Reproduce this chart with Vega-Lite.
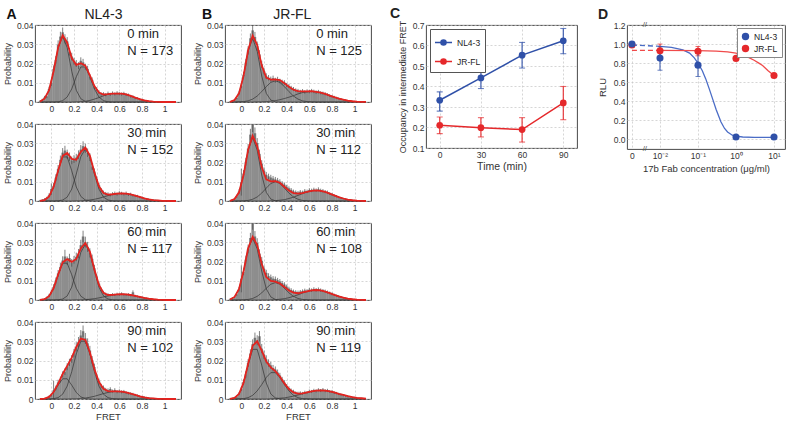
{
"$schema":"https://vega.github.io/schema/vega-lite/v6.json",
"padding":{"left":3,"top":6,"right":0,"bottom":0},
"config":{
 "font":"Liberation Sans",
 "view":{"stroke":"#333","strokeWidth":0.9},
 "axis":{"grid":true,"gridColor":"#c4c4c4","gridDash":[2,2],"gridWidth":0.7,"domain":false,"ticks":false,"labelFontSize":8.5,"labelColor":"#333","labelPadding":2,"labelFlush":false,"labelOverlap":false,"titleFontSize":9,"titleFontWeight":"normal","titleColor":"#333","titlePadding":4},
 "title":{"color":"#222"},
 "legend":{"labelFontSize":8.5,"labelColor":"#222"}
},
"datasets":{
"info":[
{"p":"A0","t":"0 min","n":"N = 173"},{"p":"A30","t":"30 min","n":"N = 152"},{"p":"A60","t":"60 min","n":"N = 117"},{"p":"A90","t":"90 min","n":"N = 102"},
{"p":"B0","t":"0 min","n":"N = 125"},{"p":"B30","t":"30 min","n":"N = 112"},{"p":"B60","t":"60 min","n":"N = 108"},{"p":"B90","t":"90 min","n":"N = 119"}],
"hist":[
{"p":"A0","x":-0.1,"h":0.0005,"e":0.0004},{"p":"A0","x":-0.08,"h":0.0011,"e":0.0006},{"p":"A0","x":-0.06,"h":0.0024,"e":0.0008},{"p":"A0","x":-0.04,"h":0.003,"e":0.001},{"p":"A0","x":-0.02,"h":0.0068,"e":0.0012},{"p":"A0","x":0,"h":0.0098,"e":0.0015},{"p":"A0","x":0.02,"h":0.0172,"e":0.0018},{"p":"A0","x":0.04,"h":0.0219,"e":0.002},{"p":"A0","x":0.06,"h":0.0298,"e":0.0022},{"p":"A0","x":0.08,"h":0.034,"e":0.0025},{"p":"A0","x":0.1,"h":0.0362,"e":0.0025},{"p":"A0","x":0.12,"h":0.0328,"e":0.0024},{"p":"A0","x":0.14,"h":0.0315,"e":0.0022},{"p":"A0","x":0.16,"h":0.0261,"e":0.002},{"p":"A0","x":0.18,"h":0.0236,"e":0.002},{"p":"A0","x":0.2,"h":0.0212,"e":0.0018},{"p":"A0","x":0.22,"h":0.02,"e":0.0018},{"p":"A0","x":0.24,"h":0.0189,"e":0.0018},{"p":"A0","x":0.26,"h":0.0214,"e":0.0018},{"p":"A0","x":0.28,"h":0.0206,"e":0.0018},{"p":"A0","x":0.3,"h":0.0183,"e":0.0016},{"p":"A0","x":0.32,"h":0.0172,"e":0.0016},{"p":"A0","x":0.34,"h":0.0131,"e":0.0014},{"p":"A0","x":0.36,"h":0.0115,"e":0.0013},{"p":"A0","x":0.38,"h":0.0079,"e":0.0011},{"p":"A0","x":0.4,"h":0.0067,"e":0.001},{"p":"A0","x":0.42,"h":0.0052,"e":0.0009},{"p":"A0","x":0.44,"h":0.0041,"e":0.0008},{"p":"A0","x":0.46,"h":0.0043,"e":0.0008},{"p":"A0","x":0.48,"h":0.0038,"e":0.0008},{"p":"A0","x":0.5,"h":0.0046,"e":0.0008},{"p":"A0","x":0.52,"h":0.004,"e":0.0008},{"p":"A0","x":0.54,"h":0.0047,"e":0.0008},{"p":"A0","x":0.56,"h":0.0042,"e":0.0008},{"p":"A0","x":0.58,"h":0.0048,"e":0.0008},{"p":"A0","x":0.6,"h":0.0043,"e":0.0008},{"p":"A0","x":0.62,"h":0.0041,"e":0.0008},{"p":"A0","x":0.64,"h":0.0045,"e":0.0008},{"p":"A0","x":0.66,"h":0.0038,"e":0.0007},{"p":"A0","x":0.68,"h":0.0037,"e":0.0007},{"p":"A0","x":0.7,"h":0.003,"e":0.0007},{"p":"A0","x":0.72,"h":0.0029,"e":0.0006},{"p":"A0","x":0.74,"h":0.0021,"e":0.0006},{"p":"A0","x":0.76,"h":0.002,"e":0.0005},{"p":"A0","x":0.78,"h":0.0014,"e":0.0005},{"p":"A0","x":0.8,"h":0.0012,"e":0.0004},{"p":"A0","x":0.82,"h":0.0008,"e":0.0004},{"p":"A0","x":0.84,"h":0.0007,"e":0.0003},{"p":"A0","x":0.86,"h":0.0004,"e":0.0003},{"p":"A0","x":0.88,"h":0.0004,"e":0.0002},{"p":"A0","x":0.9,"h":0.0002,"e":0.0002},{"p":"A0","x":0.92,"h":0.0002,"e":0.0002},{"p":"A0","x":0.94,"h":0.0001,"e":0.0001},{"p":"A0","x":0.96,"h":0.0001,"e":0.0001},
{"p":"A30","x":-0.1,"h":0.0003,"e":0.0003},{"p":"A30","x":-0.08,"h":0.0006,"e":0.0004},{"p":"A30","x":-0.06,"h":0.001,"e":0.0005},{"p":"A30","x":-0.04,"h":0.0016,"e":0.0006},{"p":"A30","x":-0.02,"h":0.003,"e":0.001},{"p":"A30","x":0,"h":0.0062,"e":0.003},{"p":"A30","x":0.02,"h":0.0079,"e":0.0015},{"p":"A30","x":0.04,"h":0.0121,"e":0.0018},{"p":"A30","x":0.06,"h":0.0167,"e":0.002},{"p":"A30","x":0.08,"h":0.0214,"e":0.0022},{"p":"A30","x":0.1,"h":0.0251,"e":0.0024},{"p":"A30","x":0.12,"h":0.0262,"e":0.0025},{"p":"A30","x":0.14,"h":0.0243,"e":0.0024},{"p":"A30","x":0.16,"h":0.023,"e":0.0022},{"p":"A30","x":0.18,"h":0.0211,"e":0.002},{"p":"A30","x":0.2,"h":0.0218,"e":0.002},{"p":"A30","x":0.22,"h":0.0225,"e":0.002},{"p":"A30","x":0.24,"h":0.0241,"e":0.0022},{"p":"A30","x":0.26,"h":0.0267,"e":0.0024},{"p":"A30","x":0.28,"h":0.0285,"e":0.0025},{"p":"A30","x":0.3,"h":0.0274,"e":0.0024},{"p":"A30","x":0.32,"h":0.0251,"e":0.0022},{"p":"A30","x":0.34,"h":0.0228,"e":0.002},{"p":"A30","x":0.36,"h":0.018,"e":0.0018},{"p":"A30","x":0.38,"h":0.0153,"e":0.0016},{"p":"A30","x":0.4,"h":0.0114,"e":0.0014},{"p":"A30","x":0.42,"h":0.0082,"e":0.0012},{"p":"A30","x":0.44,"h":0.0058,"e":0.001},{"p":"A30","x":0.46,"h":0.0046,"e":0.0008},{"p":"A30","x":0.48,"h":0.0039,"e":0.0008},{"p":"A30","x":0.5,"h":0.0037,"e":0.0008},{"p":"A30","x":0.52,"h":0.0031,"e":0.0007},{"p":"A30","x":0.54,"h":0.0038,"e":0.0008},{"p":"A30","x":0.56,"h":0.0041,"e":0.0008},{"p":"A30","x":0.58,"h":0.0036,"e":0.0008},{"p":"A30","x":0.6,"h":0.0043,"e":0.0008},{"p":"A30","x":0.62,"h":0.004,"e":0.0008},{"p":"A30","x":0.64,"h":0.0036,"e":0.0007},{"p":"A30","x":0.66,"h":0.0041,"e":0.0008},{"p":"A30","x":0.68,"h":0.0033,"e":0.0007},{"p":"A30","x":0.7,"h":0.0036,"e":0.0007},{"p":"A30","x":0.72,"h":0.0029,"e":0.0006},{"p":"A30","x":0.74,"h":0.0027,"e":0.0006},{"p":"A30","x":0.76,"h":0.0026,"e":0.0006},{"p":"A30","x":0.78,"h":0.002,"e":0.0005},{"p":"A30","x":0.8,"h":0.0018,"e":0.0005},{"p":"A30","x":0.82,"h":0.0013,"e":0.0004},{"p":"A30","x":0.84,"h":0.0011,"e":0.0004},{"p":"A30","x":0.86,"h":0.0009,"e":0.0003},{"p":"A30","x":0.88,"h":0.0006,"e":0.0003},{"p":"A30","x":0.9,"h":0.0005,"e":0.0003},{"p":"A30","x":0.92,"h":0.0004,"e":0.0002},{"p":"A30","x":0.94,"h":0.0003,"e":0.0002},{"p":"A30","x":0.96,"h":0.0002,"e":0.0001},{"p":"A30","x":0.98,"h":0.0001,"e":0.0001},
{"p":"A60","x":-0.1,"h":0.0002,"e":0.0002},{"p":"A60","x":-0.08,"h":0.0003,"e":0.0003},{"p":"A60","x":-0.06,"h":0.0006,"e":0.0004},{"p":"A60","x":-0.04,"h":0.0012,"e":0.0006},{"p":"A60","x":-0.02,"h":0.0024,"e":0.0008},{"p":"A60","x":0,"h":0.0042,"e":0.0012},{"p":"A60","x":0.02,"h":0.0068,"e":0.0014},{"p":"A60","x":0.04,"h":0.0101,"e":0.0016},{"p":"A60","x":0.06,"h":0.0138,"e":0.0018},{"p":"A60","x":0.08,"h":0.0172,"e":0.002},{"p":"A60","x":0.1,"h":0.0205,"e":0.0022},{"p":"A60","x":0.12,"h":0.0226,"e":0.0035},{"p":"A60","x":0.14,"h":0.0204,"e":0.0022},{"p":"A60","x":0.16,"h":0.0218,"e":0.0022},{"p":"A60","x":0.18,"h":0.0193,"e":0.002},{"p":"A60","x":0.2,"h":0.0209,"e":0.002},{"p":"A60","x":0.22,"h":0.0224,"e":0.0022},{"p":"A60","x":0.24,"h":0.0241,"e":0.0024},{"p":"A60","x":0.26,"h":0.0285,"e":0.0028},{"p":"A60","x":0.28,"h":0.033,"e":0.003},{"p":"A60","x":0.3,"h":0.0301,"e":0.0028},{"p":"A60","x":0.32,"h":0.0276,"e":0.0026},{"p":"A60","x":0.34,"h":0.0245,"e":0.0024},{"p":"A60","x":0.36,"h":0.0214,"e":0.0022},{"p":"A60","x":0.38,"h":0.0165,"e":0.0018},{"p":"A60","x":0.4,"h":0.0121,"e":0.0015},{"p":"A60","x":0.42,"h":0.0084,"e":0.0012},{"p":"A60","x":0.44,"h":0.0055,"e":0.001},{"p":"A60","x":0.46,"h":0.004,"e":0.0008},{"p":"A60","x":0.48,"h":0.0031,"e":0.0007},{"p":"A60","x":0.5,"h":0.0028,"e":0.0007},{"p":"A60","x":0.52,"h":0.0025,"e":0.0006},{"p":"A60","x":0.54,"h":0.0029,"e":0.0007},{"p":"A60","x":0.56,"h":0.0027,"e":0.0006},{"p":"A60","x":0.58,"h":0.0031,"e":0.0007},{"p":"A60","x":0.6,"h":0.0028,"e":0.0006},{"p":"A60","x":0.62,"h":0.0033,"e":0.0007},{"p":"A60","x":0.64,"h":0.0029,"e":0.0006},{"p":"A60","x":0.66,"h":0.0027,"e":0.0006},{"p":"A60","x":0.68,"h":0.003,"e":0.0006},{"p":"A60","x":0.7,"h":0.0025,"e":0.0006},{"p":"A60","x":0.72,"h":0.004,"e":0.001},{"p":"A60","x":0.74,"h":0.0022,"e":0.0005},{"p":"A60","x":0.76,"h":0.0019,"e":0.0005},{"p":"A60","x":0.78,"h":0.0016,"e":0.0005},{"p":"A60","x":0.8,"h":0.0014,"e":0.0004},{"p":"A60","x":0.82,"h":0.0011,"e":0.0004},{"p":"A60","x":0.84,"h":0.0009,"e":0.0003},{"p":"A60","x":0.86,"h":0.0007,"e":0.0003},{"p":"A60","x":0.88,"h":0.0005,"e":0.0002},{"p":"A60","x":0.9,"h":0.0004,"e":0.0002},{"p":"A60","x":0.92,"h":0.0003,"e":0.0002},{"p":"A60","x":0.94,"h":0.0002,"e":0.0001},{"p":"A60","x":0.96,"h":0.0001,"e":0.0001},
{"p":"A90","x":-0.1,"h":0.0001,"e":0.0001},{"p":"A90","x":-0.08,"h":0.0001,"e":0.0002},{"p":"A90","x":-0.06,"h":0.0003,"e":0.0003},{"p":"A90","x":-0.04,"h":0.0005,"e":0.0004},{"p":"A90","x":-0.02,"h":0.0013,"e":0.0006},{"p":"A90","x":0,"h":0.0021,"e":0.0008},{"p":"A90","x":0.02,"h":0.0045,"e":0.005},{"p":"A90","x":0.04,"h":0.0058,"e":0.0012},{"p":"A90","x":0.06,"h":0.0086,"e":0.0014},{"p":"A90","x":0.08,"h":0.0101,"e":0.0015},{"p":"A90","x":0.1,"h":0.0128,"e":0.0016},{"p":"A90","x":0.12,"h":0.0142,"e":0.0017},{"p":"A90","x":0.14,"h":0.0168,"e":0.0018},{"p":"A90","x":0.16,"h":0.019,"e":0.0019},{"p":"A90","x":0.18,"h":0.0208,"e":0.002},{"p":"A90","x":0.2,"h":0.0238,"e":0.0022},{"p":"A90","x":0.22,"h":0.0271,"e":0.0024},{"p":"A90","x":0.24,"h":0.0296,"e":0.0026},{"p":"A90","x":0.26,"h":0.033,"e":0.0028},{"p":"A90","x":0.28,"h":0.0352,"e":0.003},{"p":"A90","x":0.3,"h":0.0315,"e":0.0028},{"p":"A90","x":0.32,"h":0.0289,"e":0.0026},{"p":"A90","x":0.34,"h":0.0252,"e":0.0024},{"p":"A90","x":0.36,"h":0.0203,"e":0.002},{"p":"A90","x":0.38,"h":0.0166,"e":0.0018},{"p":"A90","x":0.4,"h":0.0118,"e":0.0015},{"p":"A90","x":0.42,"h":0.0093,"e":0.0013},{"p":"A90","x":0.44,"h":0.0068,"e":0.0011},{"p":"A90","x":0.46,"h":0.006,"e":0.001},{"p":"A90","x":0.48,"h":0.0049,"e":0.0009},{"p":"A90","x":0.5,"h":0.0046,"e":0.0009},{"p":"A90","x":0.52,"h":0.0052,"e":0.0009},{"p":"A90","x":0.54,"h":0.0041,"e":0.0008},{"p":"A90","x":0.56,"h":0.0047,"e":0.0009},{"p":"A90","x":0.58,"h":0.0038,"e":0.0008},{"p":"A90","x":0.6,"h":0.0042,"e":0.0008},{"p":"A90","x":0.62,"h":0.0037,"e":0.0008},{"p":"A90","x":0.64,"h":0.0039,"e":0.0008},{"p":"A90","x":0.66,"h":0.0033,"e":0.0007},{"p":"A90","x":0.68,"h":0.003,"e":0.0007},{"p":"A90","x":0.7,"h":0.0029,"e":0.0006},{"p":"A90","x":0.72,"h":0.0026,"e":0.0006},{"p":"A90","x":0.74,"h":0.0022,"e":0.0005},{"p":"A90","x":0.76,"h":0.0019,"e":0.0005},{"p":"A90","x":0.78,"h":0.0015,"e":0.0005},{"p":"A90","x":0.8,"h":0.0012,"e":0.0004},{"p":"A90","x":0.82,"h":0.001,"e":0.0004},{"p":"A90","x":0.84,"h":0.0008,"e":0.0003},{"p":"A90","x":0.86,"h":0.0006,"e":0.0003},{"p":"A90","x":0.88,"h":0.0004,"e":0.0002},{"p":"A90","x":0.9,"h":0.0003,"e":0.0002},{"p":"A90","x":0.92,"h":0.0002,"e":0.0001},{"p":"A90","x":0.94,"h":0.0001,"e":0.0001},
{"p":"B0","x":-0.1,"h":0.0002,"e":0.0002},{"p":"B0","x":-0.08,"h":0.0004,"e":0.0003},{"p":"B0","x":-0.06,"h":0.0011,"e":0.0005},{"p":"B0","x":-0.04,"h":0.0022,"e":0.0007},{"p":"B0","x":-0.02,"h":0.0048,"e":0.001},{"p":"B0","x":0,"h":0.0085,"e":0.0013},{"p":"B0","x":0.02,"h":0.0141,"e":0.0016},{"p":"B0","x":0.04,"h":0.0205,"e":0.0019},{"p":"B0","x":0.06,"h":0.0268,"e":0.0022},{"p":"B0","x":0.08,"h":0.0331,"e":0.0025},{"p":"B0","x":0.1,"h":0.0372,"e":0.003},{"p":"B0","x":0.12,"h":0.0338,"e":0.0026},{"p":"B0","x":0.14,"h":0.029,"e":0.0024},{"p":"B0","x":0.16,"h":0.0247,"e":0.0022},{"p":"B0","x":0.18,"h":0.0196,"e":0.0019},{"p":"B0","x":0.2,"h":0.016,"e":0.0017},{"p":"B0","x":0.22,"h":0.0134,"e":0.0015},{"p":"B0","x":0.24,"h":0.0126,"e":0.0014},{"p":"B0","x":0.26,"h":0.0119,"e":0.0013},{"p":"B0","x":0.28,"h":0.0124,"e":0.0013},{"p":"B0","x":0.3,"h":0.0113,"e":0.0013},{"p":"B0","x":0.32,"h":0.0118,"e":0.0013},{"p":"B0","x":0.34,"h":0.0109,"e":0.0012},{"p":"B0","x":0.36,"h":0.0104,"e":0.0012},{"p":"B0","x":0.38,"h":0.0101,"e":0.0012},{"p":"B0","x":0.4,"h":0.0088,"e":0.0011},{"p":"B0","x":0.42,"h":0.0083,"e":0.0011},{"p":"B0","x":0.44,"h":0.0074,"e":0.001},{"p":"B0","x":0.46,"h":0.0068,"e":0.001},{"p":"B0","x":0.48,"h":0.0062,"e":0.0009},{"p":"B0","x":0.5,"h":0.0059,"e":0.0009},{"p":"B0","x":0.52,"h":0.0054,"e":0.0009},{"p":"B0","x":0.54,"h":0.0058,"e":0.0009},{"p":"B0","x":0.56,"h":0.0052,"e":0.0009},{"p":"B0","x":0.58,"h":0.0057,"e":0.0009},{"p":"B0","x":0.6,"h":0.0054,"e":0.0009},{"p":"B0","x":0.62,"h":0.0059,"e":0.0009},{"p":"B0","x":0.64,"h":0.0055,"e":0.0009},{"p":"B0","x":0.66,"h":0.0051,"e":0.0009},{"p":"B0","x":0.68,"h":0.0054,"e":0.0009},{"p":"B0","x":0.7,"h":0.0048,"e":0.0008},{"p":"B0","x":0.72,"h":0.0046,"e":0.0008},{"p":"B0","x":0.74,"h":0.0043,"e":0.0008},{"p":"B0","x":0.76,"h":0.0039,"e":0.0007},{"p":"B0","x":0.78,"h":0.0034,"e":0.0007},{"p":"B0","x":0.8,"h":0.003,"e":0.0006},{"p":"B0","x":0.82,"h":0.0026,"e":0.0006},{"p":"B0","x":0.84,"h":0.0022,"e":0.0005},{"p":"B0","x":0.86,"h":0.0019,"e":0.0005},{"p":"B0","x":0.88,"h":0.0015,"e":0.0004},{"p":"B0","x":0.9,"h":0.0012,"e":0.0004},{"p":"B0","x":0.92,"h":0.001,"e":0.0003},{"p":"B0","x":0.94,"h":0.0007,"e":0.0003},{"p":"B0","x":0.96,"h":0.0005,"e":0.0002},{"p":"B0","x":0.98,"h":0.0004,"e":0.0002},{"p":"B0","x":1,"h":0.0003,"e":0.0002},{"p":"B0","x":1.02,"h":0.0002,"e":0.0001},{"p":"B0","x":1.04,"h":0.0001,"e":0.0001},{"p":"B0","x":1.06,"h":0.0001,"e":0.0001},
{"p":"B30","x":-0.1,"h":0.0002,"e":0.0002},{"p":"B30","x":-0.08,"h":0.0005,"e":0.0003},{"p":"B30","x":-0.06,"h":0.0012,"e":0.0005},{"p":"B30","x":-0.04,"h":0.0025,"e":0.0008},{"p":"B30","x":-0.02,"h":0.0049,"e":0.0012},{"p":"B30","x":0,"h":0.0098,"e":0.007},{"p":"B30","x":0.02,"h":0.0143,"e":0.0018},{"p":"B30","x":0.04,"h":0.0204,"e":0.002},{"p":"B30","x":0.06,"h":0.0272,"e":0.0024},{"p":"B30","x":0.08,"h":0.0345,"e":0.003},{"p":"B30","x":0.1,"h":0.0398,"e":0.004},{"p":"B30","x":0.12,"h":0.0352,"e":0.003},{"p":"B30","x":0.14,"h":0.0301,"e":0.0026},{"p":"B30","x":0.16,"h":0.0245,"e":0.0022},{"p":"B30","x":0.18,"h":0.0193,"e":0.0019},{"p":"B30","x":0.2,"h":0.0158,"e":0.0017},{"p":"B30","x":0.22,"h":0.0136,"e":0.0015},{"p":"B30","x":0.24,"h":0.0128,"e":0.0014},{"p":"B30","x":0.26,"h":0.0122,"e":0.0014},{"p":"B30","x":0.28,"h":0.0117,"e":0.0013},{"p":"B30","x":0.3,"h":0.0112,"e":0.0013},{"p":"B30","x":0.32,"h":0.0108,"e":0.0012},{"p":"B30","x":0.34,"h":0.0101,"e":0.0012},{"p":"B30","x":0.36,"h":0.0092,"e":0.0011},{"p":"B30","x":0.38,"h":0.0085,"e":0.0011},{"p":"B30","x":0.4,"h":0.0074,"e":0.001},{"p":"B30","x":0.42,"h":0.0066,"e":0.001},{"p":"B30","x":0.44,"h":0.0058,"e":0.0009},{"p":"B30","x":0.46,"h":0.005,"e":0.0009},{"p":"B30","x":0.48,"h":0.0047,"e":0.0008},{"p":"B30","x":0.5,"h":0.0044,"e":0.0008},{"p":"B30","x":0.52,"h":0.0049,"e":0.0008},{"p":"B30","x":0.54,"h":0.0046,"e":0.0008},{"p":"B30","x":0.56,"h":0.0053,"e":0.0009},{"p":"B30","x":0.58,"h":0.005,"e":0.0009},{"p":"B30","x":0.6,"h":0.0057,"e":0.0009},{"p":"B30","x":0.62,"h":0.0055,"e":0.0009},{"p":"B30","x":0.64,"h":0.006,"e":0.0009},{"p":"B30","x":0.66,"h":0.0056,"e":0.0009},{"p":"B30","x":0.68,"h":0.0061,"e":0.001},{"p":"B30","x":0.7,"h":0.0055,"e":0.0009},{"p":"B30","x":0.72,"h":0.0053,"e":0.0009},{"p":"B30","x":0.74,"h":0.0049,"e":0.0008},{"p":"B30","x":0.76,"h":0.0046,"e":0.0008},{"p":"B30","x":0.78,"h":0.0039,"e":0.0007},{"p":"B30","x":0.8,"h":0.0035,"e":0.0007},{"p":"B30","x":0.82,"h":0.0029,"e":0.0006},{"p":"B30","x":0.84,"h":0.0025,"e":0.0006},{"p":"B30","x":0.86,"h":0.002,"e":0.0005},{"p":"B30","x":0.88,"h":0.0016,"e":0.0004},{"p":"B30","x":0.9,"h":0.0013,"e":0.0004},{"p":"B30","x":0.92,"h":0.001,"e":0.0003},{"p":"B30","x":0.94,"h":0.0007,"e":0.0003},{"p":"B30","x":0.96,"h":0.0005,"e":0.0002},{"p":"B30","x":0.98,"h":0.0004,"e":0.0002},{"p":"B30","x":1,"h":0.0003,"e":0.0001},{"p":"B30","x":1.02,"h":0.0002,"e":0.0001},{"p":"B30","x":1.04,"h":0.0001,"e":0.0001},
{"p":"B60","x":-0.1,"h":0.0004,"e":0.0003},{"p":"B60","x":-0.08,"h":0.0008,"e":0.0004},{"p":"B60","x":-0.06,"h":0.0015,"e":0.0005},{"p":"B60","x":-0.04,"h":0.003,"e":0.0008},{"p":"B60","x":-0.02,"h":0.0055,"e":0.0011},{"p":"B60","x":0,"h":0.011,"e":0.007},{"p":"B60","x":0.02,"h":0.0146,"e":0.0017},{"p":"B60","x":0.04,"h":0.021,"e":0.002},{"p":"B60","x":0.06,"h":0.0265,"e":0.0023},{"p":"B60","x":0.08,"h":0.0322,"e":0.0027},{"p":"B60","x":0.1,"h":0.0405,"e":0.004},{"p":"B60","x":0.12,"h":0.033,"e":0.0028},{"p":"B60","x":0.14,"h":0.0296,"e":0.0025},{"p":"B60","x":0.16,"h":0.0241,"e":0.0022},{"p":"B60","x":0.18,"h":0.0204,"e":0.002},{"p":"B60","x":0.2,"h":0.0162,"e":0.0017},{"p":"B60","x":0.22,"h":0.0141,"e":0.0016},{"p":"B60","x":0.24,"h":0.0124,"e":0.0015},{"p":"B60","x":0.26,"h":0.0118,"e":0.0014},{"p":"B60","x":0.28,"h":0.0111,"e":0.0013},{"p":"B60","x":0.3,"h":0.0109,"e":0.0013},{"p":"B60","x":0.32,"h":0.0103,"e":0.0012},{"p":"B60","x":0.34,"h":0.0097,"e":0.0012},{"p":"B60","x":0.36,"h":0.0088,"e":0.0011},{"p":"B60","x":0.38,"h":0.0081,"e":0.0011},{"p":"B60","x":0.4,"h":0.007,"e":0.001},{"p":"B60","x":0.42,"h":0.006,"e":0.0009},{"p":"B60","x":0.44,"h":0.0052,"e":0.0009},{"p":"B60","x":0.46,"h":0.0046,"e":0.0008},{"p":"B60","x":0.48,"h":0.0043,"e":0.0008},{"p":"B60","x":0.5,"h":0.0041,"e":0.0008},{"p":"B60","x":0.52,"h":0.0044,"e":0.0008},{"p":"B60","x":0.54,"h":0.0047,"e":0.0008},{"p":"B60","x":0.56,"h":0.005,"e":0.0009},{"p":"B60","x":0.58,"h":0.0048,"e":0.0008},{"p":"B60","x":0.6,"h":0.0054,"e":0.0009},{"p":"B60","x":0.62,"h":0.0051,"e":0.0009},{"p":"B60","x":0.64,"h":0.0057,"e":0.0009},{"p":"B60","x":0.66,"h":0.0053,"e":0.0009},{"p":"B60","x":0.68,"h":0.0056,"e":0.0009},{"p":"B60","x":0.7,"h":0.0051,"e":0.0009},{"p":"B60","x":0.72,"h":0.0049,"e":0.0008},{"p":"B60","x":0.74,"h":0.0046,"e":0.0008},{"p":"B60","x":0.76,"h":0.0041,"e":0.0008},{"p":"B60","x":0.78,"h":0.0037,"e":0.0007},{"p":"B60","x":0.8,"h":0.0032,"e":0.0007},{"p":"B60","x":0.82,"h":0.0027,"e":0.0006},{"p":"B60","x":0.84,"h":0.0023,"e":0.0005},{"p":"B60","x":0.86,"h":0.0019,"e":0.0005},{"p":"B60","x":0.88,"h":0.0015,"e":0.0004},{"p":"B60","x":0.9,"h":0.0012,"e":0.0004},{"p":"B60","x":0.92,"h":0.0009,"e":0.0003},{"p":"B60","x":0.94,"h":0.0007,"e":0.0003},{"p":"B60","x":0.96,"h":0.0005,"e":0.0002},{"p":"B60","x":0.98,"h":0.0004,"e":0.0002},{"p":"B60","x":1,"h":0.0003,"e":0.0001},{"p":"B60","x":1.02,"h":0.0002,"e":0.0001},{"p":"B60","x":1.04,"h":0.0001,"e":0.0001},
{"p":"B90","x":-0.1,"h":0.0002,"e":0.0002},{"p":"B90","x":-0.08,"h":0.0003,"e":0.0003},{"p":"B90","x":-0.06,"h":0.0007,"e":0.0004},{"p":"B90","x":-0.04,"h":0.0013,"e":0.0006},{"p":"B90","x":-0.02,"h":0.0028,"e":0.0008},{"p":"B90","x":0,"h":0.0052,"e":0.0011},{"p":"B90","x":0.02,"h":0.0089,"e":0.0014},{"p":"B90","x":0.04,"h":0.0128,"e":0.0017},{"p":"B90","x":0.06,"h":0.0187,"e":0.002},{"p":"B90","x":0.08,"h":0.0236,"e":0.0022},{"p":"B90","x":0.1,"h":0.0285,"e":0.0025},{"p":"B90","x":0.12,"h":0.0318,"e":0.0027},{"p":"B90","x":0.14,"h":0.0305,"e":0.0026},{"p":"B90","x":0.16,"h":0.0326,"e":0.0027},{"p":"B90","x":0.18,"h":0.0262,"e":0.0024},{"p":"B90","x":0.2,"h":0.023,"e":0.0022},{"p":"B90","x":0.22,"h":0.0206,"e":0.0021},{"p":"B90","x":0.24,"h":0.0187,"e":0.0019},{"p":"B90","x":0.26,"h":0.0175,"e":0.0018},{"p":"B90","x":0.28,"h":0.016,"e":0.0017},{"p":"B90","x":0.3,"h":0.0153,"e":0.0016},{"p":"B90","x":0.32,"h":0.0138,"e":0.0015},{"p":"B90","x":0.34,"h":0.0122,"e":0.0014},{"p":"B90","x":0.36,"h":0.0102,"e":0.0013},{"p":"B90","x":0.38,"h":0.0086,"e":0.0012},{"p":"B90","x":0.4,"h":0.0068,"e":0.001},{"p":"B90","x":0.42,"h":0.0057,"e":0.0009},{"p":"B90","x":0.44,"h":0.0046,"e":0.0008},{"p":"B90","x":0.46,"h":0.004,"e":0.0008},{"p":"B90","x":0.48,"h":0.0033,"e":0.0007},{"p":"B90","x":0.5,"h":0.0031,"e":0.0007},{"p":"B90","x":0.52,"h":0.0033,"e":0.0007},{"p":"B90","x":0.54,"h":0.003,"e":0.0007},{"p":"B90","x":0.56,"h":0.0036,"e":0.0007},{"p":"B90","x":0.58,"h":0.0034,"e":0.0007},{"p":"B90","x":0.6,"h":0.0041,"e":0.0008},{"p":"B90","x":0.62,"h":0.0039,"e":0.0008},{"p":"B90","x":0.64,"h":0.0045,"e":0.0008},{"p":"B90","x":0.66,"h":0.0042,"e":0.0008},{"p":"B90","x":0.68,"h":0.0048,"e":0.0008},{"p":"B90","x":0.7,"h":0.0044,"e":0.0008},{"p":"B90","x":0.72,"h":0.0049,"e":0.0008},{"p":"B90","x":0.74,"h":0.0043,"e":0.0008},{"p":"B90","x":0.76,"h":0.0045,"e":0.0008},{"p":"B90","x":0.78,"h":0.0039,"e":0.0007},{"p":"B90","x":0.8,"h":0.004,"e":0.0007},{"p":"B90","x":0.82,"h":0.0033,"e":0.0007},{"p":"B90","x":0.84,"h":0.0031,"e":0.0006},{"p":"B90","x":0.86,"h":0.0026,"e":0.0006},{"p":"B90","x":0.88,"h":0.0022,"e":0.0005},{"p":"B90","x":0.9,"h":0.0019,"e":0.0005},{"p":"B90","x":0.92,"h":0.0014,"e":0.0004},{"p":"B90","x":0.94,"h":0.0012,"e":0.0004},{"p":"B90","x":0.96,"h":0.0008,"e":0.0003},{"p":"B90","x":0.98,"h":0.0006,"e":0.0002},{"p":"B90","x":1,"h":0.0004,"e":0.0002},{"p":"B90","x":1.02,"h":0.0003,"e":0.0001},{"p":"B90","x":1.04,"h":0.0002,"e":0.0001},{"p":"B90","x":1.06,"h":0.0001,"e":0.0001}
],
"fit":[
{"p":"A0","x":-0.1,"a":0.0003,"b":0,"c":0,"f":0.0003},{"p":"A0","x":-0.06,"a":0.0017,"b":0,"c":0,"f":0.0017},{"p":"A0","x":-0.02,"a":0.0061,"b":0,"c":0,"f":0.0061},{"p":"A0","x":0.02,"a":0.016,"b":0,"c":0,"f":0.016},{"p":"A0","x":0.06,"a":0.0282,"b":0.0001,"c":0,"f":0.0283},{"p":"A0","x":0.1,"a":0.034,"b":0.0007,"c":0,"f":0.0347},{"p":"A0","x":0.14,"a":0.0282,"b":0.0026,"c":0,"f":0.0308},{"p":"A0","x":0.18,"a":0.016,"b":0.0068,"c":0,"f":0.0228},{"p":"A0","x":0.22,"a":0.0061,"b":0.0131,"c":0.0001,"f":0.0193},{"p":"A0","x":0.26,"a":0.0017,"b":0.0182,"c":0.0002,"f":0.0201},{"p":"A0","x":0.3,"a":0.0003,"b":0.0182,"c":0.0004,"f":0.0189},{"p":"A0","x":0.34,"a":0,"b":0.0131,"c":0.0008,"f":0.0139},{"p":"A0","x":0.38,"a":0,"b":0.0068,"c":0.0015,"f":0.0083},{"p":"A0","x":0.42,"a":0,"b":0.0026,"c":0.0023,"f":0.0049},{"p":"A0","x":0.46,"a":0,"b":0.0007,"c":0.0032,"f":0.0039},{"p":"A0","x":0.5,"a":0,"b":0.0001,"c":0.004,"f":0.0041},{"p":"A0","x":0.54,"a":0,"b":0,"c":0.0044,"f":0.0044},{"p":"A0","x":0.58,"a":0,"b":0,"c":0.0044,"f":0.0044},{"p":"A0","x":0.62,"a":0,"b":0,"c":0.0044,"f":0.0044},{"p":"A0","x":0.66,"a":0,"b":0,"c":0.004,"f":0.004},{"p":"A0","x":0.7,"a":0,"b":0,"c":0.0032,"f":0.0032},{"p":"A0","x":0.74,"a":0,"b":0,"c":0.0023,"f":0.0023},{"p":"A0","x":0.78,"a":0,"b":0,"c":0.0015,"f":0.0015},{"p":"A0","x":0.82,"a":0,"b":0,"c":0.0008,"f":0.0008},{"p":"A0","x":0.86,"a":0,"b":0,"c":0.0004,"f":0.0004},{"p":"A0","x":0.9,"a":0,"b":0,"c":0.0002,"f":0.0002},{"p":"A0","x":0.94,"a":0,"b":0,"c":0.0001,"f":0.0001},{"p":"A0","x":0.98,"a":0,"b":0,"c":0,"f":0},{"p":"A0","x":1.02,"a":0,"b":0,"c":0,"f":0},{"p":"A0","x":1.06,"a":0,"b":0,"c":0,"f":0},{"p":"A0","x":1.1,"a":0,"b":0,"c":0,"f":0},
{"p":"A30","x":-0.1,"a":0.0001,"b":0,"c":0,"f":0.0001},{"p":"A30","x":-0.06,"a":0.0005,"b":0,"c":0,"f":0.0005},{"p":"A30","x":-0.02,"a":0.0024,"b":0,"c":0,"f":0.0024},{"p":"A30","x":0.02,"a":0.0073,"b":0,"c":0,"f":0.0073},{"p":"A30","x":0.06,"a":0.0157,"b":0.0001,"c":0,"f":0.0158},{"p":"A30","x":0.1,"a":0.0229,"b":0.0005,"c":0,"f":0.0234},{"p":"A30","x":0.14,"a":0.0229,"b":0.002,"c":0,"f":0.0249},{"p":"A30","x":0.18,"a":0.0157,"b":0.0062,"c":0,"f":0.0219},{"p":"A30","x":0.22,"a":0.0073,"b":0.014,"c":0.0001,"f":0.0214},{"p":"A30","x":0.26,"a":0.0024,"b":0.023,"c":0.0001,"f":0.0255},{"p":"A30","x":0.3,"a":0.0005,"b":0.027,"c":0.0003,"f":0.0278},{"p":"A30","x":0.34,"a":0.0001,"b":0.023,"c":0.0005,"f":0.0236},{"p":"A30","x":0.38,"a":0,"b":0.014,"c":0.0009,"f":0.0149},{"p":"A30","x":0.42,"a":0,"b":0.0062,"c":0.0014,"f":0.0076},{"p":"A30","x":0.46,"a":0,"b":0.002,"c":0.0021,"f":0.0041},{"p":"A30","x":0.5,"a":0,"b":0.0005,"c":0.0028,"f":0.0033},{"p":"A30","x":0.54,"a":0,"b":0.0001,"c":0.0034,"f":0.0035},{"p":"A30","x":0.58,"a":0,"b":0,"c":0.0038,"f":0.0038},{"p":"A30","x":0.62,"a":0,"b":0,"c":0.004,"f":0.004},{"p":"A30","x":0.66,"a":0,"b":0,"c":0.0038,"f":0.0038},{"p":"A30","x":0.7,"a":0,"b":0,"c":0.0034,"f":0.0034},{"p":"A30","x":0.74,"a":0,"b":0,"c":0.0028,"f":0.0028},{"p":"A30","x":0.78,"a":0,"b":0,"c":0.0021,"f":0.0021},{"p":"A30","x":0.82,"a":0,"b":0,"c":0.0014,"f":0.0014},{"p":"A30","x":0.86,"a":0,"b":0,"c":0.0009,"f":0.0009},{"p":"A30","x":0.9,"a":0,"b":0,"c":0.0005,"f":0.0005},{"p":"A30","x":0.94,"a":0,"b":0,"c":0.0003,"f":0.0003},{"p":"A30","x":0.98,"a":0,"b":0,"c":0.0001,"f":0.0001},{"p":"A30","x":1.02,"a":0,"b":0,"c":0.0001,"f":0.0001},{"p":"A30","x":1.06,"a":0,"b":0,"c":0,"f":0},{"p":"A30","x":1.1,"a":0,"b":0,"c":0,"f":0},
{"p":"A60","x":-0.1,"a":0.0001,"b":0,"c":0,"f":0.0001},{"p":"A60","x":-0.06,"a":0.0004,"b":0,"c":0,"f":0.0004},{"p":"A60","x":-0.02,"a":0.002,"b":0,"c":0,"f":0.002},{"p":"A60","x":0.02,"a":0.0061,"b":0,"c":0,"f":0.0061},{"p":"A60","x":0.06,"a":0.0131,"b":0.0001,"c":0,"f":0.0132},{"p":"A60","x":0.1,"a":0.0191,"b":0.0005,"c":0,"f":0.0196},{"p":"A60","x":0.14,"a":0.0191,"b":0.0021,"c":0,"f":0.0212},{"p":"A60","x":0.18,"a":0.0131,"b":0.0067,"c":0,"f":0.0198},{"p":"A60","x":0.22,"a":0.0061,"b":0.0151,"c":0.0001,"f":0.0213},{"p":"A60","x":0.26,"a":0.002,"b":0.0247,"c":0.0001,"f":0.0268},{"p":"A60","x":0.3,"a":0.0004,"b":0.029,"c":0.0002,"f":0.0296},{"p":"A60","x":0.34,"a":0.0001,"b":0.0247,"c":0.0004,"f":0.0252},{"p":"A60","x":0.38,"a":0,"b":0.0151,"c":0.0007,"f":0.0158},{"p":"A60","x":0.42,"a":0,"b":0.0067,"c":0.0011,"f":0.0078},{"p":"A60","x":0.46,"a":0,"b":0.0021,"c":0.0016,"f":0.0037},{"p":"A60","x":0.5,"a":0,"b":0.0005,"c":0.0021,"f":0.0026},{"p":"A60","x":0.54,"a":0,"b":0.0001,"c":0.0026,"f":0.0027},{"p":"A60","x":0.58,"a":0,"b":0,"c":0.0029,"f":0.0029},{"p":"A60","x":0.62,"a":0,"b":0,"c":0.003,"f":0.003},{"p":"A60","x":0.66,"a":0,"b":0,"c":0.0029,"f":0.0029},{"p":"A60","x":0.7,"a":0,"b":0,"c":0.0026,"f":0.0026},{"p":"A60","x":0.74,"a":0,"b":0,"c":0.0021,"f":0.0021},{"p":"A60","x":0.78,"a":0,"b":0,"c":0.0016,"f":0.0016},{"p":"A60","x":0.82,"a":0,"b":0,"c":0.0011,"f":0.0011},{"p":"A60","x":0.86,"a":0,"b":0,"c":0.0007,"f":0.0007},{"p":"A60","x":0.9,"a":0,"b":0,"c":0.0004,"f":0.0004},{"p":"A60","x":0.94,"a":0,"b":0,"c":0.0002,"f":0.0002},{"p":"A60","x":0.98,"a":0,"b":0,"c":0.0001,"f":0.0001},{"p":"A60","x":1.02,"a":0,"b":0,"c":0,"f":0},{"p":"A60","x":1.06,"a":0,"b":0,"c":0,"f":0},{"p":"A60","x":1.1,"a":0,"b":0,"c":0,"f":0},
{"p":"A90","x":-0.1,"a":0,"b":0,"c":0,"f":0},{"p":"A90","x":-0.06,"a":0.0002,"b":0,"c":0,"f":0.0002},{"p":"A90","x":-0.02,"a":0.0011,"b":0,"c":0,"f":0.0011},{"p":"A90","x":0.02,"a":0.0034,"b":0.0002,"c":0,"f":0.0036},{"p":"A90","x":0.06,"a":0.0072,"b":0.0007,"c":0,"f":0.0079},{"p":"A90","x":0.1,"a":0.0105,"b":0.0025,"c":0,"f":0.013},{"p":"A90","x":0.14,"a":0.0105,"b":0.0067,"c":0,"f":0.0172},{"p":"A90","x":0.18,"a":0.0072,"b":0.0142,"c":0.0001,"f":0.0215},{"p":"A90","x":0.22,"a":0.0034,"b":0.0234,"c":0.0001,"f":0.0269},{"p":"A90","x":0.26,"a":0.0011,"b":0.03,"c":0.0003,"f":0.0314},{"p":"A90","x":0.3,"a":0.0002,"b":0.03,"c":0.0005,"f":0.0307},{"p":"A90","x":0.34,"a":0,"b":0.0234,"c":0.0009,"f":0.0243},{"p":"A90","x":0.38,"a":0,"b":0.0142,"c":0.0014,"f":0.0156},{"p":"A90","x":0.42,"a":0,"b":0.0067,"c":0.0021,"f":0.0088},{"p":"A90","x":0.46,"a":0,"b":0.0025,"c":0.0028,"f":0.0053},{"p":"A90","x":0.5,"a":0,"b":0.0007,"c":0.0034,"f":0.0041},{"p":"A90","x":0.54,"a":0,"b":0.0002,"c":0.0038,"f":0.004},{"p":"A90","x":0.58,"a":0,"b":0,"c":0.004,"f":0.004},{"p":"A90","x":0.62,"a":0,"b":0,"c":0.0038,"f":0.0038},{"p":"A90","x":0.66,"a":0,"b":0,"c":0.0034,"f":0.0034},{"p":"A90","x":0.7,"a":0,"b":0,"c":0.0028,"f":0.0028},{"p":"A90","x":0.74,"a":0,"b":0,"c":0.0021,"f":0.0021},{"p":"A90","x":0.78,"a":0,"b":0,"c":0.0014,"f":0.0014},{"p":"A90","x":0.82,"a":0,"b":0,"c":0.0009,"f":0.0009},{"p":"A90","x":0.86,"a":0,"b":0,"c":0.0005,"f":0.0005},{"p":"A90","x":0.9,"a":0,"b":0,"c":0.0003,"f":0.0003},{"p":"A90","x":0.94,"a":0,"b":0,"c":0.0001,"f":0.0001},{"p":"A90","x":0.98,"a":0,"b":0,"c":0.0001,"f":0.0001},{"p":"A90","x":1.02,"a":0,"b":0,"c":0,"f":0},{"p":"A90","x":1.06,"a":0,"b":0,"c":0,"f":0},{"p":"A90","x":1.1,"a":0,"b":0,"c":0,"f":0},
{"p":"B0","x":-0.1,"a":0.0001,"b":0,"c":0,"f":0.0001},{"p":"B0","x":-0.06,"a":0.001,"b":0,"c":0,"f":0.001},{"p":"B0","x":-0.02,"a":0.0045,"b":0.0001,"c":0,"f":0.0046},{"p":"B0","x":0.02,"a":0.0135,"b":0.0002,"c":0,"f":0.0137},{"p":"B0","x":0.06,"a":0.0264,"b":0.0006,"c":0,"f":0.027},{"p":"B0","x":0.1,"a":0.033,"b":0.0015,"c":0,"f":0.0345},{"p":"B0","x":0.14,"a":0.0264,"b":0.0031,"c":0.0001,"f":0.0296},{"p":"B0","x":0.18,"a":0.0135,"b":0.0054,"c":0.0001,"f":0.019},{"p":"B0","x":0.22,"a":0.0045,"b":0.008,"c":0.0002,"f":0.0127},{"p":"B0","x":0.26,"a":0.001,"b":0.0102,"c":0.0004,"f":0.0116},{"p":"B0","x":0.3,"a":0.0001,"b":0.011,"c":0.0007,"f":0.0118},{"p":"B0","x":0.34,"a":0,"b":0.0102,"c":0.0012,"f":0.0114},{"p":"B0","x":0.38,"a":0,"b":0.008,"c":0.0018,"f":0.0098},{"p":"B0","x":0.42,"a":0,"b":0.0054,"c":0.0025,"f":0.0079},{"p":"B0","x":0.46,"a":0,"b":0.0031,"c":0.0033,"f":0.0064},{"p":"B0","x":0.5,"a":0,"b":0.0015,"c":0.0042,"f":0.0057},{"p":"B0","x":0.54,"a":0,"b":0.0006,"c":0.0049,"f":0.0055},{"p":"B0","x":0.58,"a":0,"b":0.0002,"c":0.0053,"f":0.0055},{"p":"B0","x":0.62,"a":0,"b":0.0001,"c":0.0055,"f":0.0056},{"p":"B0","x":0.66,"a":0,"b":0,"c":0.0053,"f":0.0053},{"p":"B0","x":0.7,"a":0,"b":0,"c":0.0049,"f":0.0049},{"p":"B0","x":0.74,"a":0,"b":0,"c":0.0042,"f":0.0042},{"p":"B0","x":0.78,"a":0,"b":0,"c":0.0033,"f":0.0033},{"p":"B0","x":0.82,"a":0,"b":0,"c":0.0025,"f":0.0025},{"p":"B0","x":0.86,"a":0,"b":0,"c":0.0018,"f":0.0018},{"p":"B0","x":0.9,"a":0,"b":0,"c":0.0012,"f":0.0012},{"p":"B0","x":0.94,"a":0,"b":0,"c":0.0007,"f":0.0007},{"p":"B0","x":0.98,"a":0,"b":0,"c":0.0004,"f":0.0004},{"p":"B0","x":1.02,"a":0,"b":0,"c":0.0002,"f":0.0002},{"p":"B0","x":1.06,"a":0,"b":0,"c":0.0001,"f":0.0001},{"p":"B0","x":1.1,"a":0,"b":0,"c":0.0001,"f":0.0001},
{"p":"B30","x":-0.1,"a":0.0001,"b":0,"c":0,"f":0.0001},{"p":"B30","x":-0.06,"a":0.001,"b":0,"c":0,"f":0.001},{"p":"B30","x":-0.02,"a":0.0045,"b":0,"c":0,"f":0.0045},{"p":"B30","x":0.02,"a":0.0135,"b":0.0001,"c":0,"f":0.0136},{"p":"B30","x":0.06,"a":0.0264,"b":0.0003,"c":0,"f":0.0267},{"p":"B30","x":0.1,"a":0.033,"b":0.0009,"c":0,"f":0.0339},{"p":"B30","x":0.14,"a":0.0264,"b":0.0021,"c":0,"f":0.0285},{"p":"B30","x":0.18,"a":0.0135,"b":0.0041,"c":0,"f":0.0176},{"p":"B30","x":0.22,"a":0.0045,"b":0.0067,"c":0,"f":0.0112},{"p":"B30","x":0.26,"a":0.001,"b":0.0091,"c":0.0001,"f":0.0102},{"p":"B30","x":0.3,"a":0.0001,"b":0.01,"c":0.0002,"f":0.0103},{"p":"B30","x":0.34,"a":0,"b":0.0091,"c":0.0004,"f":0.0095},{"p":"B30","x":0.38,"a":0,"b":0.0067,"c":0.0007,"f":0.0074},{"p":"B30","x":0.42,"a":0,"b":0.0041,"c":0.0013,"f":0.0054},{"p":"B30","x":0.46,"a":0,"b":0.0021,"c":0.002,"f":0.0041},{"p":"B30","x":0.5,"a":0,"b":0.0009,"c":0.0029,"f":0.0038},{"p":"B30","x":0.54,"a":0,"b":0.0003,"c":0.0038,"f":0.0041},{"p":"B30","x":0.58,"a":0,"b":0.0001,"c":0.0047,"f":0.0048},{"p":"B30","x":0.62,"a":0,"b":0,"c":0.0053,"f":0.0053},{"p":"B30","x":0.66,"a":0,"b":0,"c":0.0055,"f":0.0055},{"p":"B30","x":0.7,"a":0,"b":0,"c":0.0053,"f":0.0053},{"p":"B30","x":0.74,"a":0,"b":0,"c":0.0047,"f":0.0047},{"p":"B30","x":0.78,"a":0,"b":0,"c":0.0038,"f":0.0038},{"p":"B30","x":0.82,"a":0,"b":0,"c":0.0029,"f":0.0029},{"p":"B30","x":0.86,"a":0,"b":0,"c":0.002,"f":0.002},{"p":"B30","x":0.9,"a":0,"b":0,"c":0.0013,"f":0.0013},{"p":"B30","x":0.94,"a":0,"b":0,"c":0.0007,"f":0.0007},{"p":"B30","x":0.98,"a":0,"b":0,"c":0.0004,"f":0.0004},{"p":"B30","x":1.02,"a":0,"b":0,"c":0.0002,"f":0.0002},{"p":"B30","x":1.06,"a":0,"b":0,"c":0.0001,"f":0.0001},{"p":"B30","x":1.1,"a":0,"b":0,"c":0,"f":0},
{"p":"B60","x":-0.1,"a":0.0003,"b":0,"c":0,"f":0.0003},{"p":"B60","x":-0.06,"a":0.0016,"b":0,"c":0,"f":0.0016},{"p":"B60","x":-0.02,"a":0.0058,"b":0,"c":0,"f":0.0058},{"p":"B60","x":0.02,"a":0.015,"b":0.0001,"c":0,"f":0.0151},{"p":"B60","x":0.06,"a":0.0266,"b":0.0003,"c":0,"f":0.0269},{"p":"B60","x":0.1,"a":0.032,"b":0.0008,"c":0,"f":0.0328},{"p":"B60","x":0.14,"a":0.0266,"b":0.0019,"c":0,"f":0.0285},{"p":"B60","x":0.18,"a":0.015,"b":0.0037,"c":0,"f":0.0187},{"p":"B60","x":0.22,"a":0.0058,"b":0.0061,"c":0,"f":0.0119},{"p":"B60","x":0.26,"a":0.0016,"b":0.0082,"c":0.0001,"f":0.0099},{"p":"B60","x":0.3,"a":0.0003,"b":0.009,"c":0.0002,"f":0.0095},{"p":"B60","x":0.34,"a":0,"b":0.0082,"c":0.0004,"f":0.0086},{"p":"B60","x":0.38,"a":0,"b":0.0061,"c":0.0007,"f":0.0068},{"p":"B60","x":0.42,"a":0,"b":0.0037,"c":0.0012,"f":0.0049},{"p":"B60","x":0.46,"a":0,"b":0.0019,"c":0.0019,"f":0.0038},{"p":"B60","x":0.5,"a":0,"b":0.0008,"c":0.0027,"f":0.0035},{"p":"B60","x":0.54,"a":0,"b":0.0003,"c":0.0036,"f":0.0039},{"p":"B60","x":0.58,"a":0,"b":0.0001,"c":0.0044,"f":0.0045},{"p":"B60","x":0.62,"a":0,"b":0,"c":0.005,"f":0.005},{"p":"B60","x":0.66,"a":0,"b":0,"c":0.0052,"f":0.0052},{"p":"B60","x":0.7,"a":0,"b":0,"c":0.005,"f":0.005},{"p":"B60","x":0.74,"a":0,"b":0,"c":0.0044,"f":0.0044},{"p":"B60","x":0.78,"a":0,"b":0,"c":0.0036,"f":0.0036},{"p":"B60","x":0.82,"a":0,"b":0,"c":0.0027,"f":0.0027},{"p":"B60","x":0.86,"a":0,"b":0,"c":0.0019,"f":0.0019},{"p":"B60","x":0.9,"a":0,"b":0,"c":0.0012,"f":0.0012},{"p":"B60","x":0.94,"a":0,"b":0,"c":0.0007,"f":0.0007},{"p":"B60","x":0.98,"a":0,"b":0,"c":0.0004,"f":0.0004},{"p":"B60","x":1.02,"a":0,"b":0,"c":0.0002,"f":0.0002},{"p":"B60","x":1.06,"a":0,"b":0,"c":0.0001,"f":0.0001},{"p":"B60","x":1.1,"a":0,"b":0,"c":0,"f":0},
{"p":"B90","x":-0.1,"a":0.0001,"b":0,"c":0,"f":0.0001},{"p":"B90","x":-0.06,"a":0.0006,"b":0,"c":0,"f":0.0006},{"p":"B90","x":-0.02,"a":0.0026,"b":0.0001,"c":0,"f":0.0027},{"p":"B90","x":0.02,"a":0.0083,"b":0.0002,"c":0,"f":0.0085},{"p":"B90","x":0.06,"a":0.0176,"b":0.0007,"c":0,"f":0.0183},{"p":"B90","x":0.1,"a":0.0258,"b":0.0019,"c":0,"f":0.0277},{"p":"B90","x":0.14,"a":0.0258,"b":0.0042,"c":0,"f":0.03},{"p":"B90","x":0.18,"a":0.0176,"b":0.0075,"c":0,"f":0.0251},{"p":"B90","x":0.22,"a":0.0083,"b":0.0112,"c":0,"f":0.0195},{"p":"B90","x":0.26,"a":0.0026,"b":0.0137,"c":0.0001,"f":0.0164},{"p":"B90","x":0.3,"a":0.0006,"b":0.0137,"c":0.0002,"f":0.0145},{"p":"B90","x":0.34,"a":0.0001,"b":0.0112,"c":0.0004,"f":0.0117},{"p":"B90","x":0.38,"a":0,"b":0.0075,"c":0.0006,"f":0.0081},{"p":"B90","x":0.42,"a":0,"b":0.0042,"c":0.001,"f":0.0052},{"p":"B90","x":0.46,"a":0,"b":0.0019,"c":0.0015,"f":0.0034},{"p":"B90","x":0.5,"a":0,"b":0.0007,"c":0.0021,"f":0.0028},{"p":"B90","x":0.54,"a":0,"b":0.0002,"c":0.0027,"f":0.0029},{"p":"B90","x":0.58,"a":0,"b":0.0001,"c":0.0034,"f":0.0035},{"p":"B90","x":0.62,"a":0,"b":0,"c":0.004,"f":0.004},{"p":"B90","x":0.66,"a":0,"b":0,"c":0.0044,"f":0.0044},{"p":"B90","x":0.7,"a":0,"b":0,"c":0.0045,"f":0.0045},{"p":"B90","x":0.74,"a":0,"b":0,"c":0.0044,"f":0.0044},{"p":"B90","x":0.78,"a":0,"b":0,"c":0.004,"f":0.004},{"p":"B90","x":0.82,"a":0,"b":0,"c":0.0034,"f":0.0034},{"p":"B90","x":0.86,"a":0,"b":0,"c":0.0027,"f":0.0027},{"p":"B90","x":0.9,"a":0,"b":0,"c":0.0021,"f":0.0021},{"p":"B90","x":0.94,"a":0,"b":0,"c":0.0015,"f":0.0015},{"p":"B90","x":0.98,"a":0,"b":0,"c":0.001,"f":0.001},{"p":"B90","x":1.02,"a":0,"b":0,"c":0.0006,"f":0.0006},{"p":"B90","x":1.06,"a":0,"b":0,"c":0.0004,"f":0.0004},{"p":"B90","x":1.1,"a":0,"b":0,"c":0.0002,"f":0.0002}
],
"occ":[
{"s":"NL4-3","t":0,"v":0.333,"lo":0.28,"hi":0.374},{"s":"NL4-3","t":30,"v":0.442,"lo":0.39,"hi":0.492},{"s":"NL4-3","t":60,"v":0.553,"lo":0.49,"hi":0.615},{"s":"NL4-3","t":90,"v":0.623,"lo":0.56,"hi":0.683},
{"s":"JR-FL","t":0,"v":0.211,"lo":0.17,"hi":0.251},{"s":"JR-FL","t":30,"v":0.199,"lo":0.154,"hi":0.248},{"s":"JR-FL","t":60,"v":0.19,"lo":0.129,"hi":0.248},{"s":"JR-FL","t":90,"v":0.32,"lo":0.238,"hi":0.4}],
"rlu":[
{"s":"JR-FL","c":0.00183,"v":0.99,"lo":0.97,"hi":1.01},{"s":"JR-FL","c":0.01,"v":0.93,"lo":0.86,"hi":1.0},{"s":"JR-FL","c":0.1,"v":0.925,"lo":0.877,"hi":0.975},{"s":"JR-FL","c":1,"v":0.85,"lo":0.835,"hi":0.865},{"s":"JR-FL","c":10,"v":0.67,"lo":0.655,"hi":0.685},
{"s":"NL4-3","c":0.00183,"v":1.0,"lo":0.975,"hi":1.025},{"s":"NL4-3","c":0.01,"v":0.853,"lo":0.726,"hi":0.972},{"s":"NL4-3","c":0.1,"v":0.779,"lo":0.66,"hi":0.902},{"s":"NL4-3","c":1,"v":0.025,"lo":0.015,"hi":0.035},{"s":"NL4-3","c":10,"v":0.025,"lo":0.015,"hi":0.035}],
"crv":[
{"s":"NL4-3","g":"d","c":0.00183,"v":0.99},{"s":"NL4-3","g":"d","c":0.0085,"v":0.978},
{"s":"NL4-3","g":"s","c":0.0085,"v":0.978},{"s":"NL4-3","g":"s","c":0.02,"v":0.965},{"s":"NL4-3","g":"s","c":0.04,"v":0.94},{"s":"NL4-3","g":"s","c":0.06,"v":0.905},{"s":"NL4-3","g":"s","c":0.08,"v":0.855},{"s":"NL4-3","g":"s","c":0.1,"v":0.8},{"s":"NL4-3","g":"s","c":0.13,"v":0.72},{"s":"NL4-3","g":"s","c":0.16,"v":0.635},{"s":"NL4-3","g":"s","c":0.2,"v":0.525},{"s":"NL4-3","g":"s","c":0.25,"v":0.41},{"s":"NL4-3","g":"s","c":0.3,"v":0.315},{"s":"NL4-3","g":"s","c":0.4,"v":0.185},{"s":"NL4-3","g":"s","c":0.5,"v":0.115},{"s":"NL4-3","g":"s","c":0.6,"v":0.078},{"s":"NL4-3","g":"s","c":0.8,"v":0.045},{"s":"NL4-3","g":"s","c":1,"v":0.034},{"s":"NL4-3","g":"s","c":1.5,"v":0.026},{"s":"NL4-3","g":"s","c":3,"v":0.022},{"s":"NL4-3","g":"s","c":10,"v":0.021},
{"s":"JR-FL","g":"d","c":0.00183,"v":0.935},{"s":"JR-FL","g":"d","c":0.009,"v":0.934},
{"s":"JR-FL","g":"s","c":0.009,"v":0.934},{"s":"JR-FL","g":"s","c":0.1,"v":0.932},{"s":"JR-FL","g":"s","c":0.3,"v":0.927},{"s":"JR-FL","g":"s","c":0.6,"v":0.918},{"s":"JR-FL","g":"s","c":1,"v":0.905},{"s":"JR-FL","g":"s","c":1.5,"v":0.885},{"s":"JR-FL","g":"s","c":2,"v":0.866},{"s":"JR-FL","g":"s","c":3,"v":0.83},{"s":"JR-FL","g":"s","c":4,"v":0.8},{"s":"JR-FL","g":"s","c":5,"v":0.775},{"s":"JR-FL","g":"s","c":7,"v":0.72},{"s":"JR-FL","g":"s","c":10,"v":0.67}]
},
"hconcat":[
 {"hconcat":[
  {"spacing":22,"bounds":"flush",
   "vconcat":[
    {"width":146,"height":77,
     "layer":[
      {"data":{"name":"hist"},"transform":[{"filter":"datum.p=='A0'"}],"mark":{"type":"bar","color":"#8d8d8d","size":2.6,"clip":true},"encoding":{"x":{"field":"x","type":"quantitative","scale":{"domain":[-0.1,1.1],"nice":false,"zero":false},"axis":{"values":[0,0.2,0.4,0.6,0.8,1],"tickCount":20,"format":"~g","title":null,"labelOverlap":false}},"y":{"field":"h","type":"quantitative","scale":{"domain":[0,0.04],"nice":false},"axis":{"values":[0,0.01,0.02,0.03,0.04],"tickCount":20,"format":"~g","title":"Probability","labelOverlap":false}}}},
      {"data":{"name":"hist"},"transform":[{"filter":"datum.p=='A0'"}],"mark":{"type":"errorbar","color":"#4a4a4a","thickness":0.7,"clip":true},"encoding":{"x":{"field":"x","type":"quantitative","title":null},"y":{"field":"h","type":"quantitative","title":"Probability"},"yError":{"field":"e"}}},
      {"data":{"name":"fit"},"transform":[{"filter":"datum.p=='A0'"},{"fold":["a","b","c"],"as":["k","v"]}],"mark":{"type":"line","color":"#333","strokeWidth":0.7},"encoding":{"x":{"field":"x","type":"quantitative"},"y":{"field":"v","type":"quantitative"},"detail":{"field":"k","type":"nominal"}}},
      {"data":{"name":"fit"},"transform":[{"filter":"datum.p=='A0'"}],"mark":{"type":"line","color":"#e3231f","strokeWidth":1.8},"encoding":{"x":{"field":"x","type":"quantitative"},"y":{"field":"f","type":"quantitative"}}},
      {"data":{"name":"info"},"transform":[{"filter":"datum.p=='A0'"}],"mark":{"type":"text","align":"left","baseline":"middle","fontSize":13,"color":"#222"},"encoding":{"x":{"datum":0.67},"y":{"datum":0.0352},"text":{"field":"t"}}},
      {"data":{"name":"info"},"transform":[{"filter":"datum.p=='A0'"}],"mark":{"type":"text","align":"left","baseline":"middle","fontSize":13,"color":"#222"},"encoding":{"x":{"datum":0.67},"y":{"datum":0.0264},"text":{"field":"n"}}},
      {"data":{"values":[{}]},"mark":{"type":"text","text":"A","align":"left","baseline":"middle","fontSize":14,"fontWeight":"bold","color":"#111"},"encoding":{"x":{"datum":-0.396},"y":{"datum":0.0452}}},
      {"data":{"values":[{}]},"mark":{"type":"text","text":"NL4-3","align":"center","baseline":"middle","fontSize":14,"color":"#222"},"encoding":{"x":{"datum":0.46},"y":{"datum":0.0452}}}
     ]},
    {"width":146,"height":77,
     "layer":[
      {"data":{"name":"hist"},"transform":[{"filter":"datum.p=='A30'"}],"mark":{"type":"bar","color":"#8d8d8d","size":2.6,"clip":true},"encoding":{"x":{"field":"x","type":"quantitative","scale":{"domain":[-0.1,1.1],"nice":false,"zero":false},"axis":{"values":[0,0.2,0.4,0.6,0.8,1],"tickCount":20,"format":"~g","title":null,"labelOverlap":false}},"y":{"field":"h","type":"quantitative","scale":{"domain":[0,0.04],"nice":false},"axis":{"values":[0,0.01,0.02,0.03,0.04],"tickCount":20,"format":"~g","title":"Probability","labelOverlap":false}}}},
      {"data":{"name":"hist"},"transform":[{"filter":"datum.p=='A30'"}],"mark":{"type":"errorbar","color":"#4a4a4a","thickness":0.7,"clip":true},"encoding":{"x":{"field":"x","type":"quantitative","title":null},"y":{"field":"h","type":"quantitative","title":"Probability"},"yError":{"field":"e"}}},
      {"data":{"name":"fit"},"transform":[{"filter":"datum.p=='A30'"},{"fold":["a","b","c"],"as":["k","v"]}],"mark":{"type":"line","color":"#333","strokeWidth":0.7},"encoding":{"x":{"field":"x","type":"quantitative"},"y":{"field":"v","type":"quantitative"},"detail":{"field":"k","type":"nominal"}}},
      {"data":{"name":"fit"},"transform":[{"filter":"datum.p=='A30'"}],"mark":{"type":"line","color":"#e3231f","strokeWidth":1.8},"encoding":{"x":{"field":"x","type":"quantitative"},"y":{"field":"f","type":"quantitative"}}},
      {"data":{"name":"info"},"transform":[{"filter":"datum.p=='A30'"}],"mark":{"type":"text","align":"left","baseline":"middle","fontSize":13,"color":"#222"},"encoding":{"x":{"datum":0.67},"y":{"datum":0.0352},"text":{"field":"t"}}},
      {"data":{"name":"info"},"transform":[{"filter":"datum.p=='A30'"}],"mark":{"type":"text","align":"left","baseline":"middle","fontSize":13,"color":"#222"},"encoding":{"x":{"datum":0.67},"y":{"datum":0.0264},"text":{"field":"n"}}}
     ]},
    {"width":146,"height":77,
     "layer":[
      {"data":{"name":"hist"},"transform":[{"filter":"datum.p=='A60'"}],"mark":{"type":"bar","color":"#8d8d8d","size":2.6,"clip":true},"encoding":{"x":{"field":"x","type":"quantitative","scale":{"domain":[-0.1,1.1],"nice":false,"zero":false},"axis":{"values":[0,0.2,0.4,0.6,0.8,1],"tickCount":20,"format":"~g","title":null,"labelOverlap":false}},"y":{"field":"h","type":"quantitative","scale":{"domain":[0,0.04],"nice":false},"axis":{"values":[0,0.01,0.02,0.03,0.04],"tickCount":20,"format":"~g","title":"Probability","labelOverlap":false}}}},
      {"data":{"name":"hist"},"transform":[{"filter":"datum.p=='A60'"}],"mark":{"type":"errorbar","color":"#4a4a4a","thickness":0.7,"clip":true},"encoding":{"x":{"field":"x","type":"quantitative","title":null},"y":{"field":"h","type":"quantitative","title":"Probability"},"yError":{"field":"e"}}},
      {"data":{"name":"fit"},"transform":[{"filter":"datum.p=='A60'"},{"fold":["a","b","c"],"as":["k","v"]}],"mark":{"type":"line","color":"#333","strokeWidth":0.7},"encoding":{"x":{"field":"x","type":"quantitative"},"y":{"field":"v","type":"quantitative"},"detail":{"field":"k","type":"nominal"}}},
      {"data":{"name":"fit"},"transform":[{"filter":"datum.p=='A60'"}],"mark":{"type":"line","color":"#e3231f","strokeWidth":1.8},"encoding":{"x":{"field":"x","type":"quantitative"},"y":{"field":"f","type":"quantitative"}}},
      {"data":{"name":"info"},"transform":[{"filter":"datum.p=='A60'"}],"mark":{"type":"text","align":"left","baseline":"middle","fontSize":13,"color":"#222"},"encoding":{"x":{"datum":0.67},"y":{"datum":0.0352},"text":{"field":"t"}}},
      {"data":{"name":"info"},"transform":[{"filter":"datum.p=='A60'"}],"mark":{"type":"text","align":"left","baseline":"middle","fontSize":13,"color":"#222"},"encoding":{"x":{"datum":0.67},"y":{"datum":0.0264},"text":{"field":"n"}}}
     ]},
    {"width":146,"height":77,
     "layer":[
      {"data":{"name":"hist"},"transform":[{"filter":"datum.p=='A90'"}],"mark":{"type":"bar","color":"#8d8d8d","size":2.6,"clip":true},"encoding":{"x":{"field":"x","type":"quantitative","scale":{"domain":[-0.1,1.1],"nice":false,"zero":false},"axis":{"values":[0,0.2,0.4,0.6,0.8,1],"tickCount":20,"format":"~g","title":"FRET","titleFontSize":9.5,"titlePadding":2,"labelOverlap":false}},"y":{"field":"h","type":"quantitative","scale":{"domain":[0,0.04],"nice":false},"axis":{"values":[0,0.01,0.02,0.03,0.04],"tickCount":20,"format":"~g","title":"Probability","labelOverlap":false}}}},
      {"data":{"name":"hist"},"transform":[{"filter":"datum.p=='A90'"}],"mark":{"type":"errorbar","color":"#4a4a4a","thickness":0.7,"clip":true},"encoding":{"x":{"field":"x","type":"quantitative","title":"FRET"},"y":{"field":"h","type":"quantitative","title":"Probability"},"yError":{"field":"e"}}},
      {"data":{"name":"fit"},"transform":[{"filter":"datum.p=='A90'"},{"fold":["a","b","c"],"as":["k","v"]}],"mark":{"type":"line","color":"#333","strokeWidth":0.7},"encoding":{"x":{"field":"x","type":"quantitative"},"y":{"field":"v","type":"quantitative"},"detail":{"field":"k","type":"nominal"}}},
      {"data":{"name":"fit"},"transform":[{"filter":"datum.p=='A90'"}],"mark":{"type":"line","color":"#e3231f","strokeWidth":1.8},"encoding":{"x":{"field":"x","type":"quantitative"},"y":{"field":"f","type":"quantitative"}}},
      {"data":{"name":"info"},"transform":[{"filter":"datum.p=='A90'"}],"mark":{"type":"text","align":"left","baseline":"middle","fontSize":13,"color":"#222"},"encoding":{"x":{"datum":0.67},"y":{"datum":0.0352},"text":{"field":"t"}}},
      {"data":{"name":"info"},"transform":[{"filter":"datum.p=='A90'"}],"mark":{"type":"text","align":"left","baseline":"middle","fontSize":13,"color":"#222"},"encoding":{"x":{"datum":0.67},"y":{"datum":0.0264},"text":{"field":"n"}}}
     ]}
   ]},
  {"spacing":22,"bounds":"flush",
   "vconcat":[
    {"width":146,"height":77,
     "layer":[
      {"data":{"name":"hist"},"transform":[{"filter":"datum.p=='B0'"}],"mark":{"type":"bar","color":"#8d8d8d","size":2.6,"clip":true},"encoding":{"x":{"field":"x","type":"quantitative","scale":{"domain":[-0.1,1.1],"nice":false,"zero":false},"axis":{"values":[0,0.2,0.4,0.6,0.8,1],"tickCount":20,"format":"~g","title":null,"labelOverlap":false}},"y":{"field":"h","type":"quantitative","scale":{"domain":[0,0.04],"nice":false},"axis":{"values":[0,0.01,0.02,0.03,0.04],"tickCount":20,"format":"~g","title":"Probability","labelOverlap":false}}}},
      {"data":{"name":"hist"},"transform":[{"filter":"datum.p=='B0'"}],"mark":{"type":"errorbar","color":"#4a4a4a","thickness":0.7,"clip":true},"encoding":{"x":{"field":"x","type":"quantitative","title":null},"y":{"field":"h","type":"quantitative","title":"Probability"},"yError":{"field":"e"}}},
      {"data":{"name":"fit"},"transform":[{"filter":"datum.p=='B0'"},{"fold":["a","b","c"],"as":["k","v"]}],"mark":{"type":"line","color":"#333","strokeWidth":0.7},"encoding":{"x":{"field":"x","type":"quantitative"},"y":{"field":"v","type":"quantitative"},"detail":{"field":"k","type":"nominal"}}},
      {"data":{"name":"fit"},"transform":[{"filter":"datum.p=='B0'"}],"mark":{"type":"line","color":"#e3231f","strokeWidth":1.8},"encoding":{"x":{"field":"x","type":"quantitative"},"y":{"field":"f","type":"quantitative"}}},
      {"data":{"name":"info"},"transform":[{"filter":"datum.p=='B0'"}],"mark":{"type":"text","align":"left","baseline":"middle","fontSize":13,"color":"#222"},"encoding":{"x":{"datum":0.66},"y":{"datum":0.0352},"text":{"field":"t"}}},
      {"data":{"name":"info"},"transform":[{"filter":"datum.p=='B0'"}],"mark":{"type":"text","align":"left","baseline":"middle","fontSize":13,"color":"#222"},"encoding":{"x":{"datum":0.66},"y":{"datum":0.0264},"text":{"field":"n"}}},
      {"data":{"values":[{}]},"mark":{"type":"text","text":"B","align":"left","baseline":"middle","fontSize":14,"fontWeight":"bold","color":"#111"},"encoding":{"x":{"datum":-0.347},"y":{"datum":0.0452}}},
      {"data":{"values":[{}]},"mark":{"type":"text","text":"JR-FL","align":"center","baseline":"middle","fontSize":14,"color":"#222"},"encoding":{"x":{"datum":0.45},"y":{"datum":0.0452}}}
     ]},
    {"width":146,"height":77,
     "layer":[
      {"data":{"name":"hist"},"transform":[{"filter":"datum.p=='B30'"}],"mark":{"type":"bar","color":"#8d8d8d","size":2.6,"clip":true},"encoding":{"x":{"field":"x","type":"quantitative","scale":{"domain":[-0.1,1.1],"nice":false,"zero":false},"axis":{"values":[0,0.2,0.4,0.6,0.8,1],"tickCount":20,"format":"~g","title":null,"labelOverlap":false}},"y":{"field":"h","type":"quantitative","scale":{"domain":[0,0.04],"nice":false},"axis":{"values":[0,0.01,0.02,0.03,0.04],"tickCount":20,"format":"~g","title":"Probability","labelOverlap":false}}}},
      {"data":{"name":"hist"},"transform":[{"filter":"datum.p=='B30'"}],"mark":{"type":"errorbar","color":"#4a4a4a","thickness":0.7,"clip":true},"encoding":{"x":{"field":"x","type":"quantitative","title":null},"y":{"field":"h","type":"quantitative","title":"Probability"},"yError":{"field":"e"}}},
      {"data":{"name":"fit"},"transform":[{"filter":"datum.p=='B30'"},{"fold":["a","b","c"],"as":["k","v"]}],"mark":{"type":"line","color":"#333","strokeWidth":0.7},"encoding":{"x":{"field":"x","type":"quantitative"},"y":{"field":"v","type":"quantitative"},"detail":{"field":"k","type":"nominal"}}},
      {"data":{"name":"fit"},"transform":[{"filter":"datum.p=='B30'"}],"mark":{"type":"line","color":"#e3231f","strokeWidth":1.8},"encoding":{"x":{"field":"x","type":"quantitative"},"y":{"field":"f","type":"quantitative"}}},
      {"data":{"name":"info"},"transform":[{"filter":"datum.p=='B30'"}],"mark":{"type":"text","align":"left","baseline":"middle","fontSize":13,"color":"#222"},"encoding":{"x":{"datum":0.66},"y":{"datum":0.0352},"text":{"field":"t"}}},
      {"data":{"name":"info"},"transform":[{"filter":"datum.p=='B30'"}],"mark":{"type":"text","align":"left","baseline":"middle","fontSize":13,"color":"#222"},"encoding":{"x":{"datum":0.66},"y":{"datum":0.0264},"text":{"field":"n"}}}
     ]},
    {"width":146,"height":77,
     "layer":[
      {"data":{"name":"hist"},"transform":[{"filter":"datum.p=='B60'"}],"mark":{"type":"bar","color":"#8d8d8d","size":2.6,"clip":true},"encoding":{"x":{"field":"x","type":"quantitative","scale":{"domain":[-0.1,1.1],"nice":false,"zero":false},"axis":{"values":[0,0.2,0.4,0.6,0.8,1],"tickCount":20,"format":"~g","title":null,"labelOverlap":false}},"y":{"field":"h","type":"quantitative","scale":{"domain":[0,0.04],"nice":false},"axis":{"values":[0,0.01,0.02,0.03,0.04],"tickCount":20,"format":"~g","title":"Probability","labelOverlap":false}}}},
      {"data":{"name":"hist"},"transform":[{"filter":"datum.p=='B60'"}],"mark":{"type":"errorbar","color":"#4a4a4a","thickness":0.7,"clip":true},"encoding":{"x":{"field":"x","type":"quantitative","title":null},"y":{"field":"h","type":"quantitative","title":"Probability"},"yError":{"field":"e"}}},
      {"data":{"name":"fit"},"transform":[{"filter":"datum.p=='B60'"},{"fold":["a","b","c"],"as":["k","v"]}],"mark":{"type":"line","color":"#333","strokeWidth":0.7},"encoding":{"x":{"field":"x","type":"quantitative"},"y":{"field":"v","type":"quantitative"},"detail":{"field":"k","type":"nominal"}}},
      {"data":{"name":"fit"},"transform":[{"filter":"datum.p=='B60'"}],"mark":{"type":"line","color":"#e3231f","strokeWidth":1.8},"encoding":{"x":{"field":"x","type":"quantitative"},"y":{"field":"f","type":"quantitative"}}},
      {"data":{"name":"info"},"transform":[{"filter":"datum.p=='B60'"}],"mark":{"type":"text","align":"left","baseline":"middle","fontSize":13,"color":"#222"},"encoding":{"x":{"datum":0.66},"y":{"datum":0.0352},"text":{"field":"t"}}},
      {"data":{"name":"info"},"transform":[{"filter":"datum.p=='B60'"}],"mark":{"type":"text","align":"left","baseline":"middle","fontSize":13,"color":"#222"},"encoding":{"x":{"datum":0.66},"y":{"datum":0.0264},"text":{"field":"n"}}}
     ]},
    {"width":146,"height":77,
     "layer":[
      {"data":{"name":"hist"},"transform":[{"filter":"datum.p=='B90'"}],"mark":{"type":"bar","color":"#8d8d8d","size":2.6,"clip":true},"encoding":{"x":{"field":"x","type":"quantitative","scale":{"domain":[-0.1,1.1],"nice":false,"zero":false},"axis":{"values":[0,0.2,0.4,0.6,0.8,1],"tickCount":20,"format":"~g","title":"FRET","titleFontSize":9.5,"titlePadding":2,"labelOverlap":false}},"y":{"field":"h","type":"quantitative","scale":{"domain":[0,0.04],"nice":false},"axis":{"values":[0,0.01,0.02,0.03,0.04],"tickCount":20,"format":"~g","title":"Probability","labelOverlap":false}}}},
      {"data":{"name":"hist"},"transform":[{"filter":"datum.p=='B90'"}],"mark":{"type":"errorbar","color":"#4a4a4a","thickness":0.7,"clip":true},"encoding":{"x":{"field":"x","type":"quantitative","title":"FRET"},"y":{"field":"h","type":"quantitative","title":"Probability"},"yError":{"field":"e"}}},
      {"data":{"name":"fit"},"transform":[{"filter":"datum.p=='B90'"},{"fold":["a","b","c"],"as":["k","v"]}],"mark":{"type":"line","color":"#333","strokeWidth":0.7},"encoding":{"x":{"field":"x","type":"quantitative"},"y":{"field":"v","type":"quantitative"},"detail":{"field":"k","type":"nominal"}}},
      {"data":{"name":"fit"},"transform":[{"filter":"datum.p=='B90'"}],"mark":{"type":"line","color":"#e3231f","strokeWidth":1.8},"encoding":{"x":{"field":"x","type":"quantitative"},"y":{"field":"f","type":"quantitative"}}},
      {"data":{"name":"info"},"transform":[{"filter":"datum.p=='B90'"}],"mark":{"type":"text","align":"left","baseline":"middle","fontSize":13,"color":"#222"},"encoding":{"x":{"datum":0.66},"y":{"datum":0.0352},"text":{"field":"t"}}},
      {"data":{"name":"info"},"transform":[{"filter":"datum.p=='B90'"}],"mark":{"type":"text","align":"left","baseline":"middle","fontSize":13,"color":"#222"},"encoding":{"x":{"datum":0.66},"y":{"datum":0.0264},"text":{"field":"n"}}}
     ]}
   ]}
 ],"spacing":11},
 {"hconcat":[
   {"width":151,"height":123,
    "title":{"text":"C","anchor":"start","frame":"group","dx":-36,"offset":-1,"fontSize":14,"fontWeight":"bold"},
    "data":{"name":"occ"},
    "layer":[
     {"transform":[{"filter":"datum.s=='NL4-3'"}],"mark":{"type":"errorbar","ticks":{"size":6},"thickness":1.1,"color":"#2f50a8"},"encoding":{"x":{"field":"t","type":"quantitative","title":"Time (min)","scale":{"domain":[-10,100],"nice":false,"zero":false},"axis":{"values":[0,30,60,90],"tickCount":20,"title":"Time (min)","titleFontSize":10.5,"titlePadding":3,"labelOverlap":false}},"y":{"field":"lo","type":"quantitative","title":"Occupancy in intermediate FRET","scale":{"domain":[0.1,0.7],"nice":false,"zero":false},"axis":{"values":[0.1,0.2,0.3,0.4,0.5,0.6,0.7],"tickCount":20,"format":".1f","title":"Occupancy in intermediate FRET","titlePadding":5,"labelOverlap":false}},"y2":{"field":"hi"}}},
     {"transform":[{"filter":"datum.s=='JR-FL'"}],"mark":{"type":"errorbar","ticks":{"size":6},"thickness":1.1,"color":"#e5282b"},"encoding":{"x":{"field":"t","type":"quantitative","title":"Time (min)"},"y":{"field":"lo","type":"quantitative","title":"Occupancy in intermediate FRET"},"y2":{"field":"hi"}}},
     {"mark":{"type":"line","strokeWidth":1.5},"encoding":{"x":{"field":"t","type":"quantitative","title":"Time (min)"},"y":{"field":"v","type":"quantitative","title":"Occupancy in intermediate FRET"},"color":{"field":"s","type":"nominal","scale":{"domain":["NL4-3","JR-FL"],"range":["#2f50a8","#e5282b"]},"legend":{"title":null,"orient":"top-left","offset":4,"symbolType":"M-1,0H1M0.3,0A0.3,0.3,0,1,1,-0.3,0A0.3,0.3,0,1,1,0.3,0Z","symbolSize":290,"symbolStrokeWidth":1.5,"labelFontSize":8.5,"strokeColor":"#555","fillColor":"white","padding":4,"rowPadding":3}}}},
     {"mark":{"type":"point","filled":true,"size":45,"opacity":1},"encoding":{"x":{"field":"t","type":"quantitative","title":"Time (min)"},"y":{"field":"v","type":"quantitative","title":"Occupancy in intermediate FRET"},"color":{"field":"s","type":"nominal","scale":{"domain":["NL4-3","JR-FL"],"range":["#2f50a8","#e5282b"]},"legend":{"title":null,"orient":"top-left","offset":4,"symbolType":"M-1,0H1M0.3,0A0.3,0.3,0,1,1,-0.3,0A0.3,0.3,0,1,1,0.3,0Z","symbolSize":290,"symbolStrokeWidth":1.5,"labelFontSize":8.5,"strokeColor":"#555","fillColor":"white","padding":4,"rowPadding":3}}}}
    ]},
   {"width":158,"height":124,
    "title":{"text":"D","anchor":"start","frame":"group","dx":-29,"offset":-1,"fontSize":14,"fontWeight":"bold"},
    "layer":[
     {"data":{"name":"crv"},"transform":[{"filter":"datum.s=='NL4-3' && datum.g=='d'"}],"mark":{"type":"line","strokeWidth":1.3,"color":"#4a6cc6","strokeDash":[5,3]},"encoding":{"x":{"field":"c","type":"quantitative","title":"17b Fab concentration (μg/ml)","scale":{"type":"log","domain":[0.001355,19.47],"nice":false},"axis":{"values":[0.00183,0.01,0.1,1,10],"tickCount":20,"labelExpr":"datum.value < 0.005 ? '0' : datum.value < 0.05 ? '10⁻²' : datum.value < 0.5 ? '10⁻¹' : datum.value < 5 ? '10⁰' : '10¹'","title":"17b Fab concentration (μg/ml)","titleFontSize":9.5,"titlePadding":4,"labelOverlap":false}},"y":{"field":"v","type":"quantitative","title":"RLU","scale":{"domain":[-0.1,1.2],"nice":false,"zero":false},"axis":{"values":[0,0.2,0.4,0.6,0.8,1,1.2],"tickCount":20,"format":".1f","title":"RLU","titleFontSize":9.5,"titlePadding":6,"labelOverlap":false}}}},
     {"data":{"name":"crv"},"transform":[{"filter":"datum.s=='NL4-3' && datum.g=='s'"}],"mark":{"type":"line","strokeWidth":1.3,"color":"#4a6cc6"},"encoding":{"x":{"field":"c","type":"quantitative","title":"17b Fab concentration (μg/ml)"},"y":{"field":"v","type":"quantitative","title":"RLU"}}},
     {"data":{"name":"crv"},"transform":[{"filter":"datum.s=='JR-FL' && datum.g=='d'"}],"mark":{"type":"line","strokeWidth":1.3,"color":"#f04a4a","strokeDash":[5,3]},"encoding":{"x":{"field":"c","type":"quantitative","title":"17b Fab concentration (μg/ml)"},"y":{"field":"v","type":"quantitative","title":"RLU"}}},
     {"data":{"name":"crv"},"transform":[{"filter":"datum.s=='JR-FL' && datum.g=='s'"}],"mark":{"type":"line","strokeWidth":1.3,"color":"#f04a4a"},"encoding":{"x":{"field":"c","type":"quantitative","title":"17b Fab concentration (μg/ml)"},"y":{"field":"v","type":"quantitative","title":"RLU"}}},
     {"data":{"name":"rlu"},"transform":[{"filter":"datum.s=='JR-FL'"}],"mark":{"type":"errorbar","ticks":{"size":5},"thickness":1,"color":"#e5282b"},"encoding":{"x":{"field":"c","type":"quantitative","title":"17b Fab concentration (μg/ml)"},"y":{"field":"lo","type":"quantitative","title":"RLU"},"y2":{"field":"hi"}}},
     {"data":{"name":"rlu"},"transform":[{"filter":"datum.s=='NL4-3'"}],"mark":{"type":"errorbar","ticks":{"size":5},"thickness":1,"color":"#2f50a8"},"encoding":{"x":{"field":"c","type":"quantitative","title":"17b Fab concentration (μg/ml)"},"y":{"field":"lo","type":"quantitative","title":"RLU"},"y2":{"field":"hi"}}},
     {"data":{"name":"rlu"},"mark":{"type":"point","filled":true,"size":50,"opacity":1},"encoding":{"x":{"field":"c","type":"quantitative","title":"17b Fab concentration (μg/ml)"},"y":{"field":"v","type":"quantitative","title":"RLU"},"color":{"field":"s","type":"nominal","scale":{"domain":["NL4-3","JR-FL"],"range":["#2f50a8","#e5282b"]},"legend":{"title":null,"orient":"top-right","offset":3,"symbolType":"circle","symbolSize":55,"labelFontSize":8.5,"strokeColor":"#888","fillColor":"white","padding":4,"rowPadding":3}}}},
     {"data":{"values":[{}]},"mark":{"type":"text","text":"//","fontSize":8,"color":"#555","baseline":"middle","align":"center"},"encoding":{"x":{"datum":0.004},"y":{"datum":1.2}}},
     {"data":{"values":[{}]},"mark":{"type":"text","text":"//","fontSize":8,"color":"#555","baseline":"middle","align":"center"},"encoding":{"x":{"datum":0.004},"y":{"datum":-0.1}}}
    ]}
 ],"spacing":50,"bounds":"flush",
 "resolve":{"scale":{"color":"independent"},"legend":{"color":"independent"}}}
],
"spacing":17
}
